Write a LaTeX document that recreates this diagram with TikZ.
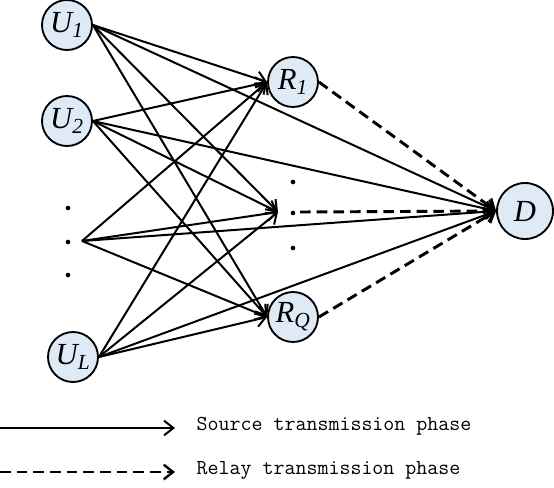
\documentclass[tikz,border=0pt]{standalone}
\usepackage{fontspec}
\setmainfont{Liberation Serif}
\usetikzlibrary{arrows.meta,calc}
\definecolor{NodeBlue}{HTML}{DEEBF7}
\tikzset{
    user/.style = {draw, circle, fill=NodeBlue, line width=1.4pt,
        minimum size=37.5pt, inner sep=0pt,
        font=\fontsize{23}{24}\selectfont\itshape},
    dest/.style = {user, minimum size=42pt},
    link/.style = {line width=1.5pt, -{Straight Barb[length=7pt,width=11pt,line width=1.5pt]}},
    relay/.style = {line width=2.2pt, dash pattern=on 8pt off 4.5pt,
        -{Straight Barb[length=7pt,width=11pt,line width=1.8pt]}},
    dot/.style = {circle, fill=black, inner sep=0pt, minimum size=3.5pt}
}
\begin{document}
\begin{tikzpicture}[x=0.75pt,y=-0.75pt]
        \useasboundingbox (0,0) rectangle (554,487);
        % sources
        \node[user] (u1) at (67,25) {U\textsubscript{1}};
        \node[user] (u2) at (67,121) {U\textsubscript{2}};
        \node[user] (ul) at (73,357) {U\textsubscript{L}};
        \coordinate (uk) at (82,241);
        \foreach \y in {208,242,275}{
            \node[dot] at (68,\y) {};
        }
        % relays
        \node[user] (r1) at (293,82) {R\textsubscript{1}};
        \node[user] (rq) at (293,317) {R\textsubscript{Q}};
        \coordinate (rk) at (278,212);
        \coordinate (rkout) at (300,212);
        \foreach \y in {182,213,248}{
            \node[dot] at (293,\y) {};
        }
        % destination
        \node[dest] (d) at (525,211) {D};
        % source phase
        \foreach \s in {u1,u2,ul}{
            \draw[link] (\s.east) -- (r1.west);
            \draw[link] (\s.east) -- (rk);
            \draw[link] (\s.east) -- (rq.west);
            \draw[link] (\s.east) -- (d.west);
        }
        \draw[link] (uk) -- (r1.west);
        \draw[link] (uk) -- (rk);
        \draw[link] (uk) -- (rq.west);
        \draw[link] (uk) -- (d.west);
        % relay phase
        \draw[relay] (r1.east) -- (d.west);
        \draw[relay] (rkout) -- (d.west);
        \draw[relay] (rq.east) -- (d.west);
        % legend
        \coordinate (l1a) at (0,428);
        \coordinate (l1b) at (175,428);
        \coordinate (l2a) at (0,472);
        \coordinate (l2b) at (175,472);
        \draw[link] (l1a) -- (l1b);
        \draw[relay] (l2a) -- (l2b);
        \node[anchor=west, font=\ttfamily\fontsize{16}{18}\selectfont] (t1) at (192,426) {Source transmission phase};
        \node[anchor=west, font=\ttfamily\fontsize{16}{18}\selectfont] (t2) at (192,470) {Relay transmission phase};
        \end{tikzpicture}
\end{document}
